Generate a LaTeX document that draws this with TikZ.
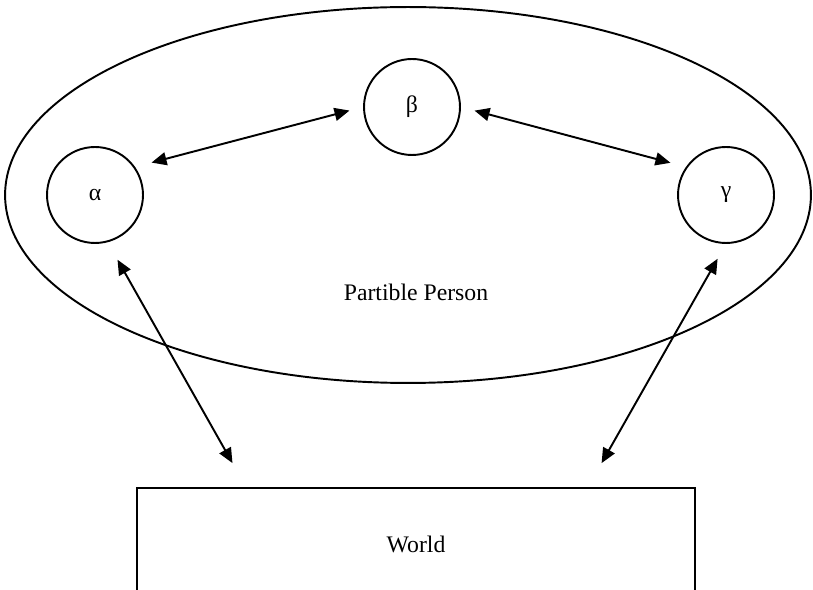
\documentclass[tikz,border=0pt]{standalone}
\usepackage{fontspec}
\setmainfont{Liberation Serif}
\usetikzlibrary{positioning,shapes.geometric,arrows.meta,calc}

\begin{document}
\begin{tikzpicture}
  [
    x=0.02cm, y=-0.02cm,
    line width=1.1pt,
    every node/.style={font=\fontsize{13.5}{16}\selectfont},
    part/.style={draw, circle, minimum size=1.92cm, inner sep=0pt},
    link/.style={{Triangle[length=0.3cm,width=0.26cm]}-{Triangle[length=0.3cm,width=0.26cm]}},
  ]

  \useasboundingbox (0,0) rectangle (813,590);
  \clip (0,0) rectangle (813,590);

  \node[draw, ellipse, inner sep=0pt, minimum width=16.12cm, minimum height=7.52cm] (person) at (408,195) {};
  \node (plabel) at (416,292) {Partible Person};

  \node[part] (alpha) at (95,195) {α};
  \node[part] (beta) at (412,107) {β};
  \node[part] (gamma) at (726,195) {γ};

  % lower edge runs off the page
  \node[draw, minimum width=11.16cm, minimum height=2.24cm] (world) at (416,544) {World};

  \draw[link, shorten <=0.34cm, shorten >=0.28cm] (alpha.35) -- (beta.west);
  \draw[link, shorten <=0.28cm, shorten >=0.32cm] (beta.east) -- (gamma.145);
  \draw[link, shorten <=0.4cm, shorten >=0.55cm] (alpha.-75) -- ($(world.north) + (-170,0)$);
  \draw[link, shorten <=0.34cm, shorten >=0.55cm] (gamma.-90) -- ($(world.north) + (172,0)$);

  %\draw[help lines] (0,0) grid[step=50] (813,590);

\end{tikzpicture}
\end{document}
